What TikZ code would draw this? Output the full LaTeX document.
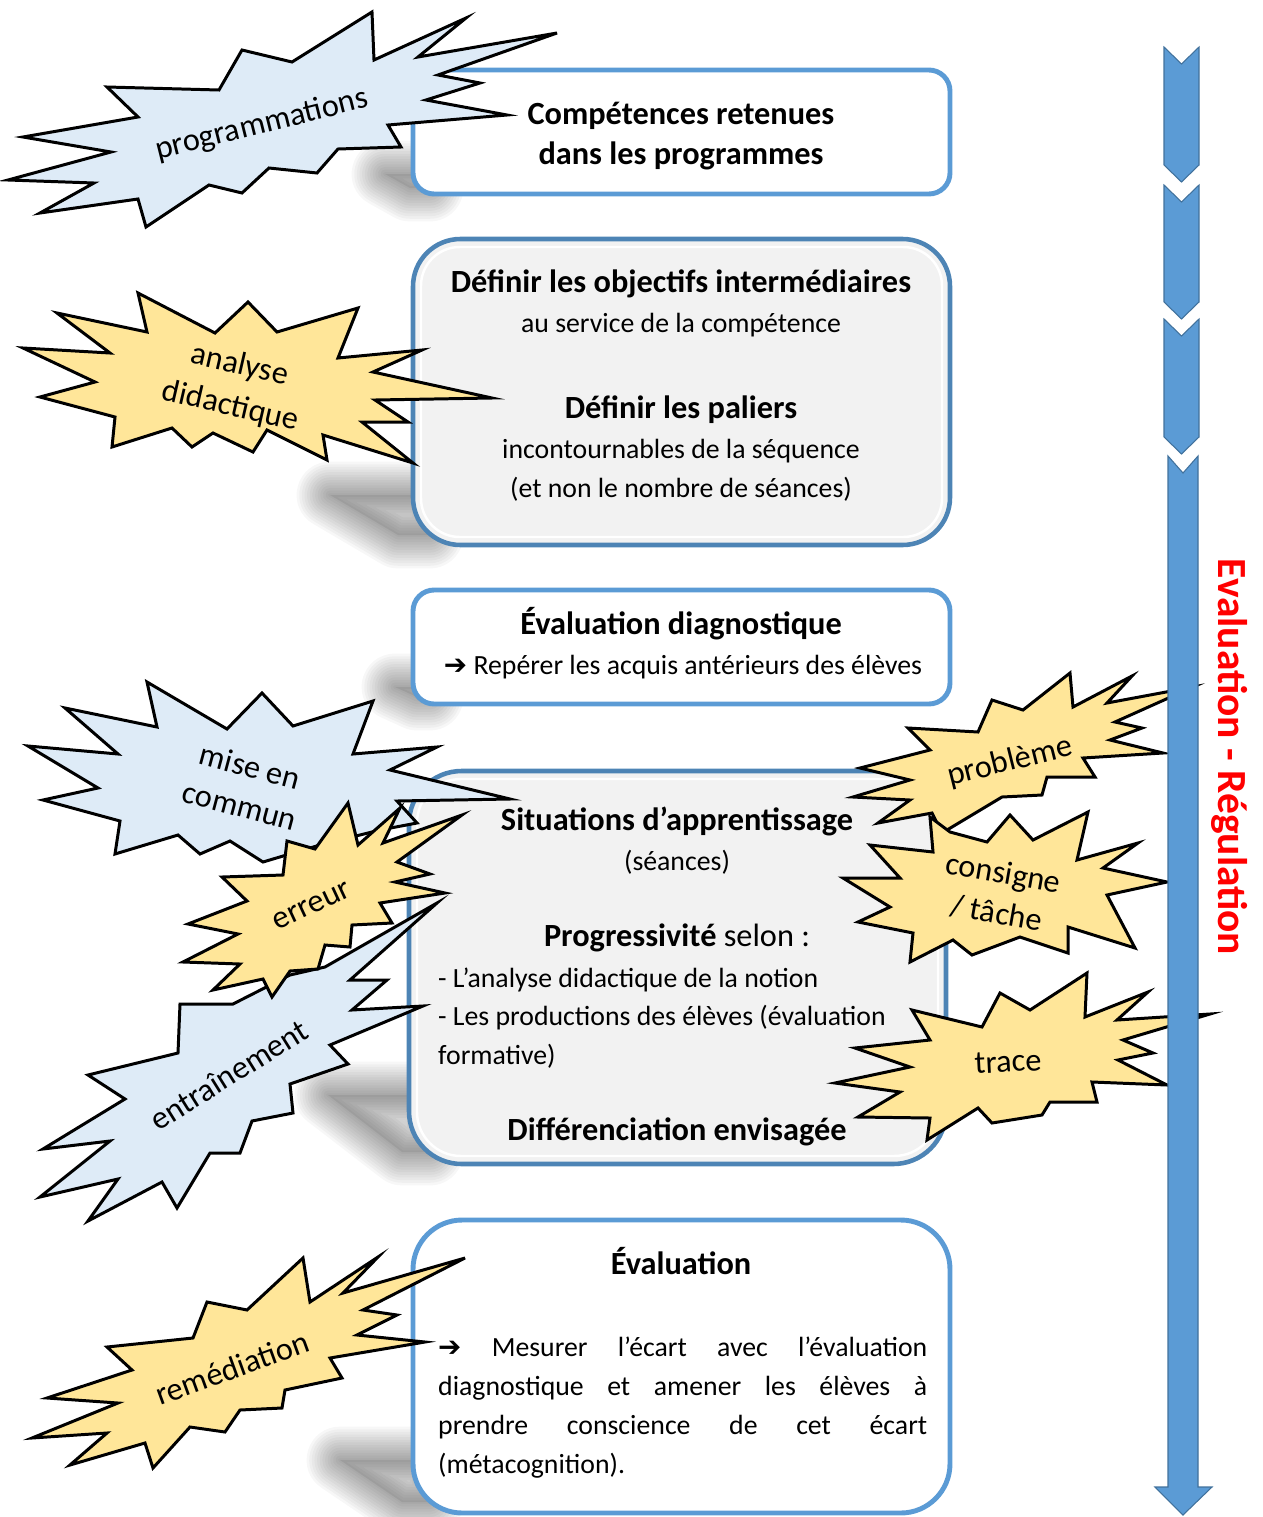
\documentclass[tikz,border=0pt]{standalone}
\usepackage{fontspec}
\setmainfont{Carlito}
\newfontfamily\arrowfont{DejaVu Sans}
\usepackage{tikz}
\usetikzlibrary{calc}
\definecolor{boxblue}{HTML}{5B9BD5}
\definecolor{boxgray}{HTML}{F2F2F2}
\definecolor{burstblue}{HTML}{DEEBF7}
\definecolor{burstgold}{HTML}{FFE699}
\definecolor{arrowblue}{HTML}{5B9BD5}
\definecolor{arrowedge}{HTML}{41719C}
\definecolor{regulred}{HTML}{FF0000}
\tikzset{
% Boxes of the sequence, and the bursts around them
plain box/.style={draw=boxblue,line width=2.8pt,fill=white,rounded corners=12pt},
gray box/.style={draw=boxblue!85!black,line width=2.6pt,fill=boxgray,rounded corners=27pt},
box glow/.style={draw=white,line width=1.4pt,rounded corners=22pt},
box shadow/.style={draw=black,opacity=0.032,line join=round},
shadow core/.style={fill=black,opacity=0.07},
title text/.style={font=\fontsize{18.4}{22.8}\selectfont\bfseries},
body text/.style={font=\fontsize{15.8}{22.2}\selectfont},
blue burst/.style={draw,line width=1.7pt,fill=burstblue},
gold burst/.style={draw,line width=1.7pt,fill=burstgold},
burst text/.style={font=\fontsize{18.4}{23}\selectfont,align=center},
chevron/.style={fill=arrowblue,draw=arrowedge,line width=0.6pt},
regul text/.style={font=\fontsize{23.6}{28}\selectfont\bfseries,text=regulred}
}

\begin{document}
\begin{tikzpicture}[x=0.2mm,y=-0.2mm]
\useasboundingbox (0,0) rectangle (1263,1517);
% Shadows under the boxes
\fill[shadow core] (385,174) -- (430,174) -- (430,188) -- (410,188) -- cycle;
\fill[shadow core] (330,495) -- (430,495) -- (430,535) -- (398,535) -- cycle;
\fill[shadow core] (395,687) -- (430,687) -- (430,697) -- (417,697) -- cycle;
\fill[shadow core] (328,1095) -- (430,1095) -- (430,1152) -- (402,1152) -- cycle;
\fill[shadow core] (340,1460) -- (430,1460) -- (430,1502) -- (402,1502) -- cycle;
\foreach \w in {2,5,...,38}{
  \draw[box shadow,line width=\w pt] (385,174) -- (430,174) -- (430,188) -- (410,188) -- cycle;
  \draw[box shadow,line width=\w pt] (330,495) -- (430,495) -- (430,535) -- (398,535) -- cycle;
  \draw[box shadow,line width=\w pt] (395,687) -- (430,687) -- (430,697) -- (417,697) -- cycle;
  \draw[box shadow,line width=\w pt] (328,1095) -- (430,1095) -- (430,1152) -- (402,1152) -- cycle;
  \draw[box shadow,line width=\w pt] (340,1460) -- (430,1460) -- (430,1502) -- (402,1502) -- cycle;
}
% The boxes
\draw[plain box] (413,70) rectangle (950,194);
\draw[gray box] (413,239) rectangle (950,545);
\draw[box glow] (421,247) rectangle (942,537);
\draw[plain box] (413,590) rectangle (950,704);
\draw[gray box,rounded corners=30pt] (409,771) rectangle (946,1164);
\draw[box glow,rounded corners=25pt] (417,779) rectangle (938,1156);
\draw[plain box,rounded corners=28pt] (413,1220) rectangle (950,1513);
% Texts of the boxes
\node(comp)[title text,align=center] at (681,136){Compétences retenues\\dans les programmes};
\node(obj title)[title text] at (681,284){Définir les objectifs intermédiaires};
\node(obj text)[body text] at (681,325){au service de la compétence};
\node(pal title)[title text] at (681,410){Définir les paliers};
\node(pal text)[body text,align=center] at (681,470){incontournables de la séquence\\(et non le nombre de séances)};
\node(diag title)[title text] at (681,624){Évaluation diagnostique};
\node(diag text)[body text] at (683,667){{\arrowfont\bfseries ➔} Repérer les acquis antérieurs des élèves};
\node(sit title)[title text] at (677,821){Situations d’apprentissage};
\node(sit text)[body text] at (677,862){(séances)};
\node(prog title)[title text] at (677,938){Progressivité \mdseries selon~:};
\node(prog list)[body text,align=left,anchor=west,font=\fontsize{15.8}{21.9}\selectfont] at (432,1018){- L’analyse didactique de la notion\\- Les productions des élèves (évaluation\\formative)};
\node(diff title)[title text] at (677,1132){Différenciation envisagée};
\node(eval title)[title text] at (681,1261){Évaluation};
\node(eval text)[body text,align=left,anchor=west] at (432,1408){\makebox[97.8mm][s]{{\arrowfont\bfseries ➔} Mesurer l’écart avec l’évaluation}\\\makebox[97.8mm][s]{diagnostique et amener les élèves à}\\\makebox[97.8mm][s]{prendre conscience de cet écart}\\(métacognition).};
% Bursts on the left
\draw[blue burst] (23,137) -- (138,117) -- (107,87) -- (219,90) -- (242,50) -- (292,62) -- (372,12) -- (374,60) -- (466,18) -- (418,57) -- (557,33) -- (438,75) -- (480,83) -- (426,100) -- (507,115) -- (388,125) -- (401,147) -- (338,149) -- (317,173) -- (269,168) -- (242,193) -- (209,185) -- (146,227) -- (138,199) -- (40,213) -- (94,183) -- (8,180) -- (111,152) -- cycle;
\node(prog burst)[burst text,rotate=14] at (262,125){programmations};
\draw[gold burst] (138,293) -- (215,333) -- (248,302) -- (277,332) -- (358,308) -- (338,358) -- (422,350) -- (373,372) -- (492,398) -- (375,400) -- (408,422) -- (362,422) -- (413,463) -- (323,435) -- (327,460) -- (267,430) -- (253,452) -- (213,433) -- (192,447) -- (172,428) -- (112,447) -- (115,417) -- (40,397) -- (95,382) -- (23,348) -- (110,353) -- (57,313) -- (147,332) -- cycle;
\node(anal burst)[burst text,rotate=-13,font=\fontsize{18.4}{24}\selectfont] at (235,386){analyse\\didactique};
\draw[blue burst] (147,682) -- (227,729) -- (262,693) -- (293,726) -- (373,701) -- (353,754) -- (437,747) -- (390,770) -- (510,799) -- (397,801) -- (417,823) -- (380,830) -- (320,845) -- (263,862) -- (230,841) -- (200,854) -- (178,835) -- (115,854) -- (120,821) -- (43,800) -- (98,788) -- (28,746) -- (118,754) -- (65,708) -- (157,727) -- cycle;
\node(mise burst)[burst text,rotate=-15] at (245,786){mise en\\commun};
\draw[blue burst] (437,903) -- (350,980) -- (387,980) -- (352,1010) -- (423,1006) -- (330,1045) -- (348,1064) -- (290,1084) -- (293,1113) -- (252,1121) -- (240,1153) -- (210,1153) -- (177,1208) -- (162,1182) -- (88,1221) -- (118,1179) -- (40,1197) -- (110,1141) -- (43,1149) -- (125,1099) -- (88,1075) -- (178,1053) -- (180,1004) -- (233,1004) -- (290,975) -- (325,967) -- cycle;
\node(entr burst)[burst text,rotate=32] at (229,1075){entraînement};
\draw[gold burst] (348,803) -- (358,845) -- (400,808) -- (383,843) -- (462,815) -- (397,862) -- (430,874) -- (395,882) -- (445,893) -- (380,903) -- (392,923) -- (352,925) -- (350,947) -- (325,945) -- (318,969) -- (290,971) -- (272,997) -- (263,979) -- (213,990) -- (240,964) -- (183,962) -- (238,934) -- (188,924) -- (247,901) -- (222,877) -- (283,875) -- (287,841) -- (315,849) -- cycle;
\node(err burst)[burst text,rotate=25] at (312,906){erreur};
\draw[gold burst] (303,1258) -- (310,1302) -- (378,1257) -- (343,1293) -- (465,1258) -- (363,1310) -- (397,1315) -- (357,1335) -- (425,1342) -- (330,1358) -- (342,1378) -- (285,1390) -- (282,1408) -- (240,1410) -- (225,1432) -- (190,1427) -- (153,1468) -- (145,1443) -- (70,1465) -- (107,1433) -- (32,1438) -- (118,1403) -- (47,1398) -- (132,1370) -- (107,1347) -- (193,1338) -- (207,1302) -- (247,1310) -- cycle;
\node(rem burst)[burst text,rotate=20] at (232,1368){remédiation};
% Bursts on the right
\draw[gold burst] (1070,673) -- (1073,707) -- (1132,676) -- (1107,703) -- (1193,687) -- (1115,722) -- (1142,728) -- (1110,740) -- (1163,753) -- (1083,758) -- (1095,777) -- (1047,777) -- (1042,795) -- (1002,797) -- (942,833) -- (932,813) -- (878,823) -- (910,800) -- (853,797) -- (910,780) -- (860,768) -- (930,750) -- (908,728) -- (978,732) -- (992,700) -- (1023,710) -- cycle;
\node(prob burst)[burst text,rotate=14] at (1010,762){problème};
\draw[gold burst] (1010,815) -- (1033,840) -- (1088,812) -- (1077,860) -- (1138,843) -- (1103,868) -- (1167,882) -- (1107,895) -- (1135,948) -- (1068,927) -- (1068,953) -- (1020,937) -- (972,955) -- (953,940) -- (910,962) -- (913,933) -- (858,922) -- (890,907) -- (843,878) -- (900,878) -- (870,845) -- (933,852) -- (930,817) -- (950,832) -- (987,842) -- cycle;
\node(cons burst)[burst text,rotate=-10] at (1000,893){consigne\\/ tâche};
\draw[gold burst] (1087,973) -- (1085,1017) -- (1148,992) -- (1117,1020) -- (1210,1014) -- (1123,1040) -- (1153,1053) -- (1118,1060) -- (1167,1085) -- (1092,1082) -- (1097,1102) -- (1050,1102) -- (1042,1115) -- (992,1123) -- (978,1108) -- (927,1140) -- (930,1118) -- (858,1117) -- (900,1092) -- (835,1083) -- (910,1067) -- (855,1048) -- (930,1040) -- (912,1010) -- (982,1027) -- (1000,993) -- (1030,1010) -- cycle;
\node(trace burst)[burst text,rotate=3] at (1008,1062){trace};
% Arrow of the sequence
\foreach \ytop/\ybot in {47/165,185/302,319/437}
  \draw[chevron] (1164,\ytop) -- (1181.5,\ytop+17) -- (1199,\ytop) -- (1199,\ybot) -- (1181.5,\ybot+17) -- (1164,\ybot) -- cycle;
\draw[chevron] (1168,456) -- (1183,473) -- (1198,456) -- (1198,1487) -- (1212,1487) -- (1183,1515) -- (1155,1487) -- (1168,1487) -- cycle;
\node(regul)[regul text,rotate=-90] at (1230,757){Evaluation - Régulation};
\end{tikzpicture}
\end{document}
